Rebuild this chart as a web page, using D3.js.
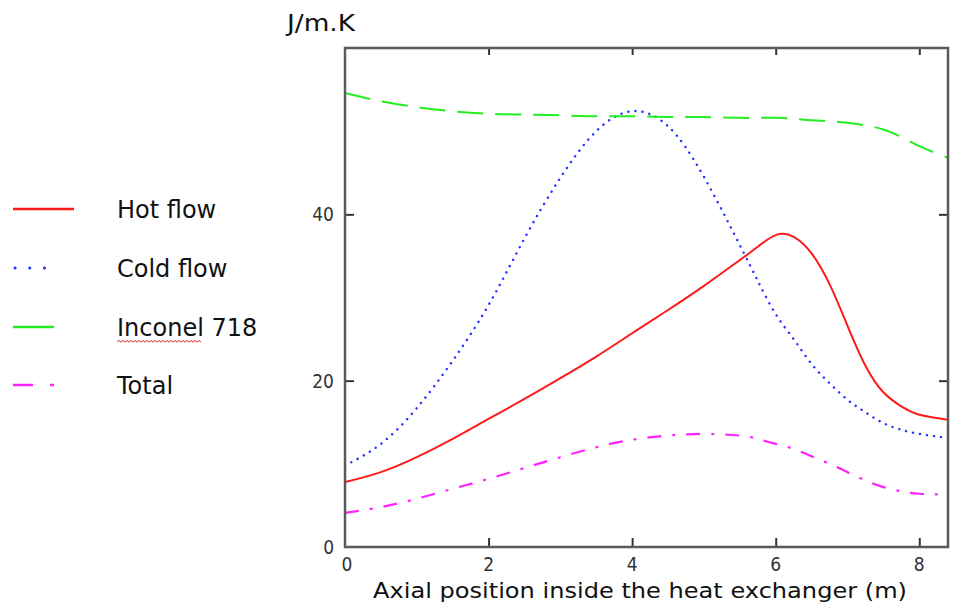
<!DOCTYPE html>
<html>
<head>
<meta charset="utf-8">
<script src="https://cdn.jsdelivr.net/npm/d3@7"></script>
<style>
  html, body { margin: 0; padding: 0; background: #fff; }
  svg { display: block; }
  text { font-family: "DejaVu Sans", "Lato", sans-serif; fill: #111; }
</style>
</head>
<body>
<svg id="chart" width="953" height="608"></svg>
<script>
// ---- data ----
const positions = [0, 0.5, 1, 1.5, 2, 2.5, 3, 3.5, 4, 4.5, 5, 5.5, 5.75, 6, 6.25, 6.5, 6.75, 7, 7.25, 7.5, 7.75, 8, 8.4];
const hotFlow   = [7.8, 9.0, 10.8, 13.0, 15.4, 17.8, 20.3, 22.9, 25.7, 28.5, 31.4, 34.5, 36.1, 37.5, 37.3, 35.3, 31.6, 26.6, 21.8, 18.6, 16.9, 15.9, 15.3];
const coldFlow  = [9.8, 12.4, 16.7, 22.4, 29.1, 37.1, 44.4, 50.0, 52.4, 50.6, 44.5, 36.3, 32.0, 28.0, 25.0, 22.0, 19.7, 17.7, 16.2, 14.9, 14.1, 13.6, 13.1];
const inconel   = [54.6, 53.6, 52.9, 52.4, 52.1, 52.0, 51.9, 51.8, 51.8, 51.7, 51.7, 51.6, 51.6, 51.6, 51.5, 51.3, 51.2, 51.0, 50.7, 50.2, 49.3, 48.2, 46.8];
const total     = [4.1, 4.8, 5.8, 7.0, 8.2, 9.5, 10.8, 12.0, 12.9, 13.4, 13.6, 13.4, 13.0, 12.4, 11.8, 10.9, 10.0, 9.0, 8.0, 7.2, 6.7, 6.4, 6.3];
const seriesNames = ["Hot flow", "Cold flow", "Inconel 718", "Total"];
const xTicks = [0, 2, 4, 6, 8];
const yTicks = [0, 20, 40];
const xDomain = [0, 8.4];
const yDomain = [0, 60];
const yUnit = "J/m.K";
const xTitle = "Axial position inside the heat exchanger (m)";

// ---- layout ----
const svg = d3.select("#chart");
const L = 345, R = 948, T = 48, B = 547;
const x = d3.scaleLinear().domain(xDomain).range([L, R]);
const y = d3.scaleLinear().domain(yDomain).range([B, T]);

const styles = [
  { color: "#ff1a1a", width: 2, dash: null, cap: "butt" },
  { color: "#2233ff", width: 2.4, dash: "0.1,7", cap: "round" },
  { color: "#22ee22", width: 2, dash: "26,12", cap: "butt" },
  { color: "#ff22ff", width: 2.2, dash: "14,11,3,11", cap: "butt" }
];
const allSeries = [hotFlow, coldFlow, inconel, total];

// clip
svg.append("clipPath").attr("id", "clip")
  .append("rect").attr("x", L).attr("y", T).attr("width", R - L).attr("height", B - T);

const line = d3.line()
  .x((d, i) => x(positions[i]))
  .y(d => y(d))
  .curve(d3.curveNatural);

const plot = svg.append("g").attr("clip-path", "url(#clip)");
allSeries.forEach((vals, k) => {
  const s = styles[k];
  plot.append("path")
    .attr("d", line(vals))
    .attr("fill", "none")
    .attr("stroke", s.color)
    .attr("stroke-width", s.width)
    .attr("stroke-linecap", s.cap)
    .attr("stroke-dasharray", s.dash);
});

// axes (inward ticks on all four sides)
const axisColor = "#5a5a5a";
const tickLen = 9;
const gB = svg.append("g").attr("transform", `translate(0,${B})`)
  .call(d3.axisBottom(x).tickValues(xTicks.filter(t => t > 0)).tickSize(-tickLen).tickFormat(""));
const gT = svg.append("g").attr("transform", `translate(0,${T})`)
  .call(d3.axisTop(x).tickValues(xTicks.filter(t => t > 0)).tickSize(-7).tickFormat(""));
const gL = svg.append("g").attr("transform", `translate(${L},0)`)
  .call(d3.axisLeft(y).tickValues(yTicks.filter(t => t > 0)).tickSize(-tickLen).tickFormat(""));
const gR = svg.append("g").attr("transform", `translate(${R},0)`)
  .call(d3.axisRight(y).tickValues(yTicks.filter(t => t > 0)).tickSize(-tickLen).tickFormat(""));
[gB, gT, gL, gR].forEach(g => {
  g.select(".domain").remove();
  g.selectAll(".tick line").attr("stroke", "#333").attr("stroke-width", 2);
});

// frame
svg.append("rect").attr("x", L).attr("y", T).attr("width", R - L).attr("height", B - T)
  .attr("fill", "none").attr("stroke", axisColor).attr("stroke-width", 2.5);

// tick labels
svg.selectAll(".xl").data(xTicks).enter().append("text")
  .attr("x", d => x(d) + (d === 0 ? 2 : 0))
  .attr("y", B + 24)
  .attr("text-anchor", "middle")
  .attr("font-size", 19)
  .style("font-family", "'Liberation Sans Narrow', 'DejaVu Sans Condensed', sans-serif")
  .style("fill", "#333")
  .text(d => d);
svg.selectAll(".yl").data(yTicks).enter().append("text")
  .attr("x", L - 11)
  .attr("y", d => y(d) + 7)
  .attr("text-anchor", "end")
  .attr("font-size", 19)
  .style("font-family", "'Liberation Sans Narrow', 'DejaVu Sans Condensed', sans-serif")
  .style("fill", "#333")
  .text(d => d);

// titles
svg.append("text").attr("x", 287).attr("y", 31).attr("font-size", 23)
  .attr("textLength", 68).attr("lengthAdjust", "spacingAndGlyphs").text(yUnit);
svg.append("text").attr("x", 373).attr("y", 598)
  .attr("font-size", 21).attr("textLength", 534).attr("lengthAdjust", "spacingAndGlyphs").text(xTitle);

// legend
const legY = [209, 268, 327, 385];
const legLen = [61, 61, 41, 40];
seriesNames.forEach((name, k) => {
  const s = styles[k];
  const g = svg.append("g");
  if (k === 3) {
    g.append("line").attr("x1", 13).attr("x2", 33).attr("y1", legY[k]).attr("y2", legY[k])
      .attr("stroke", s.color).attr("stroke-width", 2.5);
    g.append("line").attr("x1", 50).attr("x2", 54).attr("y1", legY[k]).attr("y2", legY[k])
      .attr("stroke", s.color).attr("stroke-width", 2.5);
  } else if (k === 1) {
    g.append("line").attr("x1", 15).attr("x2", 59).attr("y1", legY[k]).attr("y2", legY[k])
      .attr("stroke", s.color).attr("stroke-width", 3).attr("stroke-linecap", "round")
      .attr("stroke-dasharray", "0.1,14.6");
  } else {
    g.append("line").attr("x1", 13).attr("x2", 13 + legLen[k]).attr("y1", legY[k]).attr("y2", legY[k])
      .attr("stroke", s.color).attr("stroke-width", 2.5);
  }
  g.append("text").attr("x", 117).attr("y", legY[k] + 9).attr("font-size", 24).text(name);
});

// spell-check style squiggle under "Inconel"
(function () {
  const x0 = 117, x1 = 200, yy = legY[2] + 15;
  let d = `M${x0},${yy}`;
  for (let xx = x0, up = true; xx < x1; xx += 2, up = !up) {
    d += ` L${xx + 2},${yy + (up ? -1.5 : 0)}`;
  }
  svg.append("path").attr("d", d).attr("fill", "none").attr("stroke", "#e03030").attr("stroke-width", 1);
})();
</script>
</body>
</html>
